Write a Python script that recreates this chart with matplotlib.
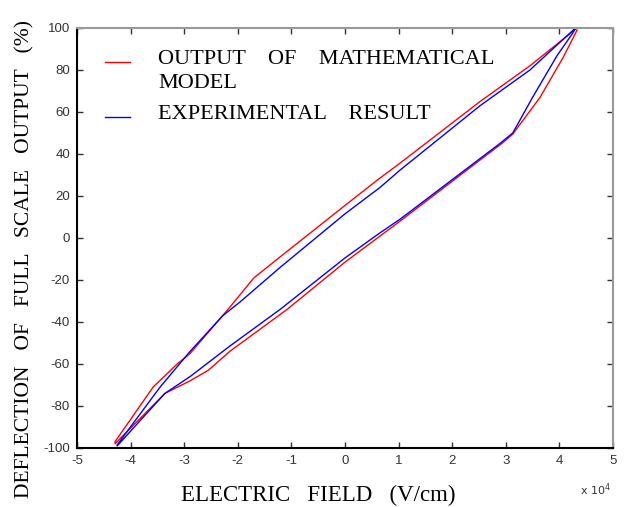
import matplotlib
matplotlib.use("Agg")
import matplotlib.pyplot as plt

# Data (x in units of 1e4 V/cm, y in %)
model_x = [4.33, 3.45, 2.52, 1.03, 0.65, 0.0, -1.21, -1.7, -2.15, -2.52, -2.89, -3.13, -3.58, -4.29,
           -4.29, -3.36, -2.89, -2.55, -2.15, -1.08, 0.0, 1.0, 2.0, 2.95, 3.13, 3.64, 4.07, 4.33]
model_y = [100, 82, 65, 35.7, 28.5, 15.5, -9, -19, -33, -44, -55, -60, -71, -97,
           -98, -74, -68, -63, -54, -34, -11.5, 7.5, 27, 45.5, 49.5, 67, 86, 99]
exp_x = [4.30, 3.45, 2.52, 1.03, 0.65, 0.0, -1.21, -1.96, -2.28, -2.89, -3.45, -4.25,
         -4.25, -3.36, -2.89, -2.15, -1.21, 0.0, 0.65, 1.03, 2.89, 3.13, 3.5, 3.96, 4.25, 4.30]
exp_y = [100, 80, 63, 32.4, 24, 11.5, -14, -30.5, -37, -54, -71, -98.5,
         -99, -74, -66, -51.5, -34, -9.5, 2.4, 9, 45, 50, 67, 87, 97.6, 100]

xticks = [-5, -4, -3, -2, -1, 0, 1, 2, 3, 4, 5]
yticks = [-100, -80, -60, -40, -20, 0, 20, 40, 60, 80, 100]

model_label = ["OUTPUT    OF    MATHEMATICAL", "MODEL"]
exp_label = "EXPERIMENTAL    RESULT"

fig = plt.figure(figsize=(6.29, 5.07), dpi=100)
ax = fig.add_axes([0.1224, 0.1164, 0.8522, 0.8284])

ax.plot(model_x, model_y, color="red", lw=1.0)
ax.plot(exp_x, exp_y, color="blue", lw=1.0)

ax.set_xlim(-5, 5)
ax.set_ylim(-100, 100)
ax.set_xticks(xticks)
ax.set_yticks(yticks)
tick_font = dict(family=["Liberation Sans Narrow", "Liberation Sans", "DejaVu Sans"], size=9.5)
ax.set_xticklabels([str(t) for t in xticks], **tick_font, color="#333333")
ax.set_yticklabels([str(t) for t in yticks], **tick_font, color="#333333")
ax.tick_params(direction="in", length=4, width=1, top=True, right=True, pad=5, colors="#333333")

for s in ["left", "bottom"]:
    ax.spines[s].set_color("black")
    ax.spines[s].set_linewidth(1.5)
for s in ["top", "right"]:
    ax.spines[s].set_color("#999999")
    ax.spines[s].set_linewidth(1.5)

serif = ["Liberation Serif", "DejaVu Serif"]
ax.set_xlabel("ELECTRIC   FIELD   (V/cm)", family=serif, size=16.5)
ax.xaxis.set_label_coords(0.45, -0.088)
ax.set_ylabel("DEFLECTION   OF   FULL   SCALE   OUTPUT   (%)", family=serif, size=15.5)
ax.yaxis.set_label_coords(-0.079, 0.45)

fig.text(0.922, 0.024, r"x 10$^{4}$", family=["Liberation Sans Narrow", "DejaVu Sans"], size=8, color="#333333")

# Legend drawn manually (no frame)
ax.plot([0.052, 0.099], [0.919, 0.919], color="red", lw=1.0, transform=ax.transAxes)
ax.text(0.151, 0.926, model_label[0], transform=ax.transAxes, family=serif, size=16, va="center", ha="left")
ax.text(0.151, 0.869, model_label[1], transform=ax.transAxes, family=serif, size=16, va="center", ha="left")
ax.plot([0.052, 0.099], [0.788, 0.788], color="blue", lw=1.0, transform=ax.transAxes)
ax.text(0.151, 0.793, exp_label, transform=ax.transAxes, family=serif, size=16, va="center", ha="left")

fig.savefig("out.png", dpi=100)
